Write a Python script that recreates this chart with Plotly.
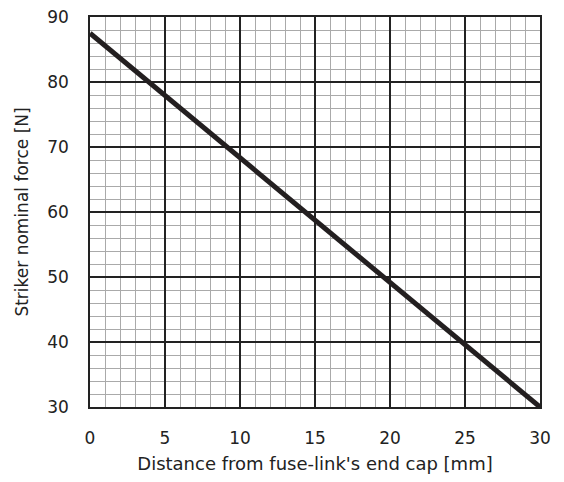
import plotly.graph_objects as go

distance_mm = [0, 30]
force_N = [87.5, 30]

x_ticks = [0, 5, 10, 15, 20, 25, 30]
y_ticks = [30, 40, 50, 60, 70, 80, 90]

fig = go.Figure()
fig.add_trace(go.Scatter(x=distance_mm, y=force_N, mode="lines",
                         line=dict(color="#231f20", width=5), showlegend=False))

font = dict(family="DejaVu Sans", size=15, color="#222222")
tickfont = dict(family="DejaVu Sans", size=17, color="#222222")

fig.update_layout(
    width=548, height=466,
    margin=dict(l=82, r=16, t=9, b=67),
    plot_bgcolor="white", paper_bgcolor="white",
    font=font,
    xaxis=dict(range=[0, 30], tickvals=x_ticks, showgrid=True, gridcolor="#222222", gridwidth=1.5,
               minor=dict(dtick=1, showgrid=True, gridcolor="#aaaaaa", gridwidth=1),
               showline=True, linecolor="#222222", linewidth=1.5, mirror=True,
               ticks="outside", ticklen=15, tickcolor="rgba(0,0,0,0)", zeroline=False,
               tickfont=tickfont, automargin=False, ticklabeloverflow="allow",
               title=dict(text="Distance from fuse-link's end cap [mm]", standoff=12)),
    yaxis=dict(range=[30, 90], tickvals=y_ticks, showgrid=True, gridcolor="#222222", gridwidth=1.5,
               minor=dict(dtick=2, showgrid=True, gridcolor="#aaaaaa", gridwidth=1),
               showline=True, linecolor="#222222", linewidth=1.5, mirror=True,
               ticks="outside", ticklen=16, tickcolor="rgba(0,0,0,0)", zeroline=False,
               tickfont=tickfont, automargin=False, ticklabeloverflow="allow",
               title=dict(text="Striker nominal force [N]", standoff=14,
                          font=dict(family="DejaVu Sans", size=17, color="#222222"))),
)

fig.write_html("out.html")
